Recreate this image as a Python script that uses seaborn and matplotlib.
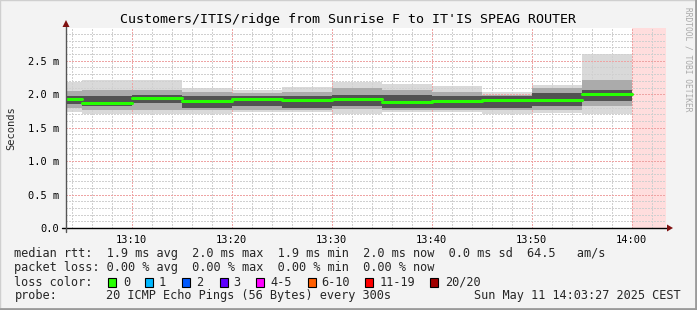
import numpy as np
import pandas as pd
import matplotlib
matplotlib.use("Agg")
import matplotlib.pyplot as plt
import seaborn as sns
from matplotlib.ticker import MultipleLocator, FuncFormatter, FixedLocator
from matplotlib.patches import Rectangle, Polygon
from matplotlib.lines import Line2D

# ---------------- data ----------------
seg_start = ["13:00", "13:05", "13:10", "13:15", "13:20", "13:25",
             "13:30", "13:35", "13:40", "13:45", "13:50", "13:55"]
seg_end = "14:00"
window_start = "13:03:27"
window_end = "14:03:27"
median_ms = [1.93, 1.87, 1.94, 1.90, 1.93, 1.92, 1.93, 1.89, 1.90, 1.91, 1.92, 2.00]
smoke_max = [2.18, 2.22, 2.21, 2.09, 2.07, 2.11, 2.19, 2.15, 2.12, 2.03, 2.14, 2.60]
smoke_min = [1.74, 1.71, 1.71, 1.70, 1.74, 1.74, 1.71, 1.73, 1.74, 1.71, 1.72, 1.71]
mid_hi = [2.05, 2.07, 2.07, 2.04, 2.02, 2.04, 2.09, 2.07, 2.04, 1.99, 2.10, 2.22]
mid_lo = [1.80, 1.76, 1.77, 1.77, 1.77, 1.77, 1.78, 1.77, 1.77, 1.77, 1.77, 1.82]
core_hi = [1.98, 1.98, 1.99, 1.98, 1.98, 1.98, 1.99, 1.99, 1.97, 1.97, 2.02, 2.07]
core_lo = [1.85, 1.82, 1.87, 1.80, 1.82, 1.79, 1.82, 1.80, 1.80, 1.80, 1.82, 1.90]
x_tick_labels = ["13:10", "13:20", "13:30", "13:40", "13:50", "14:00"]
y_ticks = [0.0, 0.5, 1.0, 1.5, 2.0, 2.5]

title = "Customers/ITIS/ridge from Sunrise F to IT'IS SPEAG ROUTER"
line_rtt = "median rtt:  1.9 ms avg  2.0 ms max  1.9 ms min  2.0 ms now  0.0 ms sd  64.5   am/s"
line_loss = "packet loss: 0.00 % avg  0.00 % max  0.00 % min  0.00 % now"
loss_labels = ["0", "1", "2", "3", "4-5", "6-10", "11-19", "20/20"]
loss_colors = ["#26ff00", "#00b8ff", "#0059ff", "#5e00ff", "#ff00ff", "#ff5e00", "#ff0000", "#a10000"]
probe_text = "20 ICMP Echo Pings (56 Bytes) every 300s"
stamp_text = "Sun May 11 14:03:27 2025 CEST"


def to_min(s):
    parts = [int(p) for p in s.split(":")]
    h, m = parts[0], parts[1]
    sec = parts[2] if len(parts) > 2 else 0
    return (h - 13) * 60 + m + sec / 60.0

starts = [to_min(s) for s in seg_start]
end_t = to_min(seg_end)
edges = starts + [end_t]
x0, x1 = to_min(window_start), to_min(window_end)

# ---------------- figure ----------------
sns.set_theme(style="white")
MONO = ["DejaVu Sans Mono"]
plt.rcParams["font.family"] = MONO

W, H = 697, 310
fig = plt.figure(figsize=(W / 100, H / 100), dpi=100, facecolor="#f3f3f3")

def fx(px):
    return px / W

def fy(py):
    return 1 - py / H

L, R, T, B = 66, 666, 28, 228
ax = fig.add_axes([fx(L), fy(B), (R - L) / W, (B - T) / H])
ax.set_facecolor("white")

# smoke bands
def ext(v):
    return list(v) + [v[-1]]

ax.fill_between(edges, ext(smoke_min), ext(smoke_max), step="post", color="#d9d9d9", lw=0, zorder=1)
ax.fill_between(edges, ext(mid_lo), ext(mid_hi), step="post", color="#ababab", lw=0, zorder=1.1)
ax.fill_between(edges, ext(core_lo), ext(core_hi), step="post", color="#525252", lw=0, zorder=1.2)

# no-data region
ax.axvspan(end_t, x1, color="#ffdddd", lw=0, zorder=0.5)

# median line through seaborn
rows = []
for i, (s, m) in enumerate(zip(starts, median_ms)):
    e = edges[i + 1]
    rows.append({"t": s, "rtt": m, "seg": i})
    rows.append({"t": e, "rtt": m, "seg": i})
df = pd.DataFrame(rows)
sns.lineplot(data=df, x="t", y="rtt", units="seg", estimator=None,
             color=loss_colors[0], lw=2.2, ax=ax, zorder=4, legend=False)

ax.set_xlim(x0, x1)
ax.set_ylim(0, 2.99)

# grid
ax.xaxis.set_major_locator(FixedLocator([to_min(t) for t in x_tick_labels]))
ax.xaxis.set_minor_locator(MultipleLocator(2))
ax.yaxis.set_major_locator(FixedLocator(y_ticks))
ax.yaxis.set_minor_locator(MultipleLocator(0.1))
ax.set_xticklabels(x_tick_labels)
ax.yaxis.set_major_formatter(FuncFormatter(lambda v, p: "0.0" if v == 0 else f"{v:.1f} m"))
ax.xaxis.set_zorder(1.05)
ax.yaxis.set_zorder(1.05)
ax.grid(which="minor", color="#d0d0d0", lw=0.72, ls=(0, (1.5, 1.5)), antialiased=False)
ax.grid(which="major", color="#eea4a4", lw=0.72, ls=(0, (1.5, 1.5)), antialiased=False)

ax.tick_params(axis="both", which="both", labelsize=7.45, colors="#000000", pad=3)
ax.tick_params(axis="both", which="major", length=2, width=0.72, color="#eea4a4")
ax.tick_params(axis="both", which="minor", length=2, width=0.72, color="#d0d0d0")
for lab in ax.get_xticklabels() + ax.get_yticklabels():
    lab.set_family(MONO)
    lab.set_color("#000000")
ax.set_xlabel("")
ax.set_ylabel("")
for sp in ax.spines.values():
    sp.set_visible(False)

# axis lines and arrows (figure pixel coordinates)
fig.add_artist(Line2D([fx(62), fx(668)], [fy(B), fy(B)], color="black", lw=1.0, zorder=10))
fig.add_artist(Line2D([fx(L), fx(L)], [fy(B + 4), fy(24)], color="#555555", lw=1.0, zorder=10))
fig.add_artist(Polygon([[fx(667), fy(B - 3.5)], [fx(673), fy(B)], [fx(667), fy(B + 3.5)]],
                       closed=True, color="#7f1010", lw=0, zorder=11))
fig.add_artist(Polygon([[fx(L - 3.5), fy(27)], [fx(L), fy(20)], [fx(L + 3.5), fy(27)]],
                       closed=True, color="#7f1010", lw=0, zorder=11))

# texts
fig.text(fx(348), fy(20), title, ha="center", va="center", size=9.6, family=MONO, color="black")
fig.text(fx(11), fy(128), "Seconds", ha="center", va="center", rotation=90, size=7.45, family=MONO)
fig.text(fx(688), fy(59), "RRDTOOL / TOBI OETIKER", ha="center", va="center", rotation=270,
         size=5.7, family=MONO, color="#a8a8a8")

LS = 8.55
fig.text(fx(14.5), fy(254), line_rtt, ha="left", va="center", size=LS, family=MONO)
fig.text(fx(14.5), fy(268), line_loss, ha="left", va="center", size=LS, family=MONO)
fig.text(fx(14.5), fy(282), "loss color:", ha="left", va="center", size=LS, family=MONO)
box_x = [108, 145.3, 182.2, 219.6, 256.4, 307.6, 365.3, 429.8]
lab_x = [123, 158.2, 196.4, 233.7, 270.6, 321.3, 379.9, 444.8]
for bx, lx, c, t in zip(box_x, lab_x, loss_colors, loss_labels):
    fig.add_artist(Rectangle((fx(bx), fy(286.5)), 8 / W, 9 / H, facecolor=c,
                             edgecolor="black", lw=0.8, zorder=10))
    fig.text(fx(lx), fy(282), t, ha="left", va="center", size=LS, family=MONO)
fig.text(fx(14.5), fy(296), "probe:", ha="left", va="center", size=LS, family=MONO)
fig.text(fx(106), fy(296), probe_text, ha="left", va="center", size=LS, family=MONO)
fig.text(fx(681), fy(296), stamp_text, ha="right", va="center", size=LS, family=MONO)

# frame
fig.add_artist(Rectangle((0, 0), 1, 1, fill=False, edgecolor="#cfcfcf", lw=1.0, zorder=0))
fig.add_artist(Line2D([fx(695.5), fx(695.5)], [0, 1], color="#9a9a9a", lw=2.0, zorder=20))
fig.add_artist(Line2D([0, 1], [fy(308.5), fy(308.5)], color="#9a9a9a", lw=2.0, zorder=20))

fig.savefig("out.png", dpi=100, facecolor=fig.get_facecolor())
